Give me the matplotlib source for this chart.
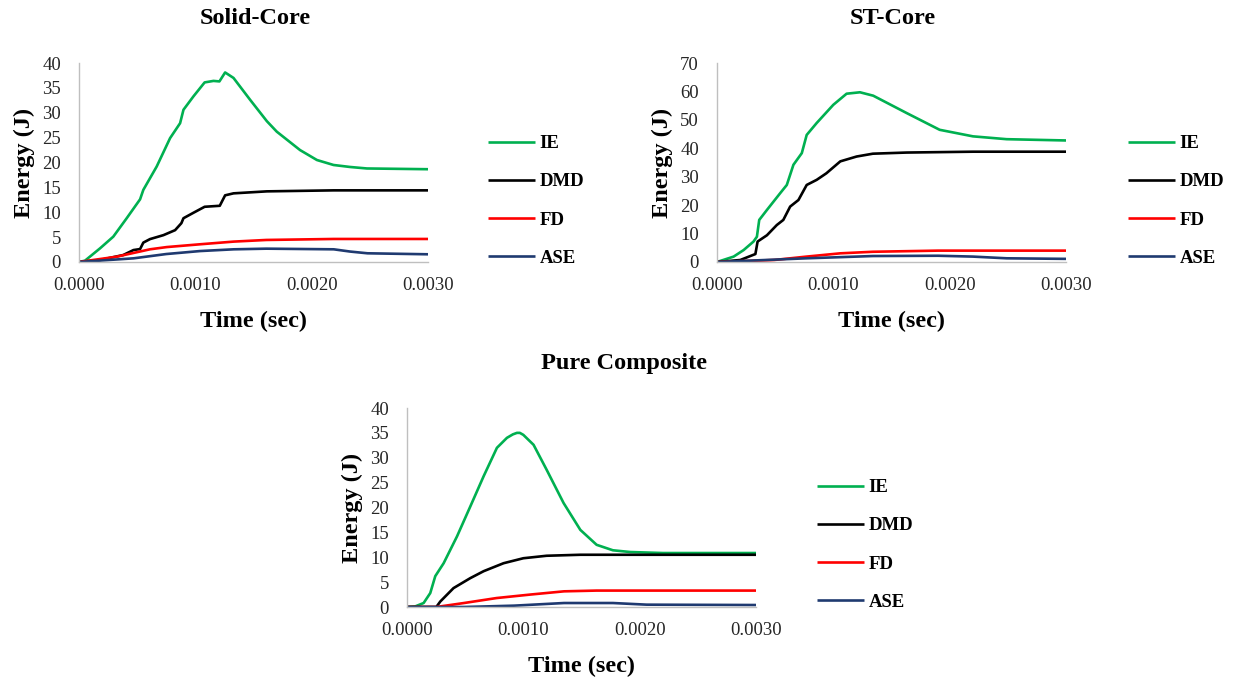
import matplotlib
matplotlib.use("Agg")
import matplotlib.pyplot as plt
from matplotlib.ticker import FormatStrFormatter

plt.rcParams['font.family'] = ['Liberation Serif', 'DejaVu Serif']

series_names = ["IE", "DMD", "FD", "ASE"]
series_colors = ["#00b050", "#000000", "#ff0000", "#1f3a70"]

# ---------------- Solid-Core ----------------
sc_ie_t = [0, 0.0000516, 0.000181, 0.000295, 0.00041, 0.000525, 0.000553, 0.000668, 0.000783,
           0.000869, 0.000898, 0.000984, 0.00108, 0.001156, 0.001207, 0.001256, 0.001328, 0.001471,
           0.001615, 0.0017, 0.0019, 0.002045, 0.002188, 0.00233, 0.002475, 0.003]
sc_ie_e = [0, 0.27, 2.75, 5.1, 8.8, 12.6, 14.5, 19.2, 24.9, 27.9, 30.6, 33.3, 36.1, 36.4, 36.3,
           38.1, 37.0, 32.6, 28.3, 26.2, 22.5, 20.5, 19.5, 19.1, 18.8, 18.65]
sc_dmd_t = [0, 0.00018, 0.00038, 0.000468, 0.000525, 0.000553, 0.00061, 0.000726, 0.000826,
            0.00088, 0.000898, 0.000984, 0.00108, 0.00121, 0.001256, 0.001328, 0.001615, 0.00219, 0.003]
sc_dmd_e = [0, 0.4, 1.4, 2.4, 2.6, 3.9, 4.6, 5.4, 6.4, 7.8, 8.8, 9.9, 11.1, 11.3, 13.4, 13.8,
            14.2, 14.4, 14.4]
sc_fd_t = [0, 0.000324, 0.00061, 0.000754, 0.00104, 0.00133, 0.00161, 0.00219, 0.003]
sc_fd_e = [0, 1.07, 2.55, 3.0, 3.56, 4.1, 4.43, 4.63, 4.63]
sc_ase_t = [0, 0.00047, 0.00075, 0.00104, 0.00133, 0.00161, 0.00219, 0.00233, 0.00248, 0.003]
sc_ase_e = [0, 0.74, 1.6, 2.2, 2.55, 2.68, 2.55, 2.1, 1.75, 1.55]

# ---------------- ST-Core ----------------
st_ie_t = [0, 0.000143, 0.000229, 0.000314, 0.000343, 0.000363, 0.000429, 0.000543, 0.0006,
           0.000657, 0.000729, 0.000771, 0.000857, 0.001, 0.001114, 0.001229, 0.001343, 0.00163,
           0.001914, 0.0022, 0.00249, 0.003]
st_ie_e = [0, 1.9, 4.2, 7.2, 8.9, 14.8, 18.3, 24.2, 27.1, 34.2, 38.3, 44.7, 48.9, 55.3, 59.2,
           59.7, 58.5, 52.4, 46.5, 44.2, 43.2, 42.75]
st_dmd_t = [0, 0.0002, 0.00033, 0.000349, 0.000429, 0.000514, 0.00057, 0.000629, 0.0007, 0.000771,
            0.000857, 0.00094, 0.00106, 0.0012, 0.00134, 0.00163, 0.0022, 0.003]
st_dmd_e = [0, 0.7, 2.8, 7.2, 9.4, 13.0, 14.8, 19.5, 21.8, 27.1, 28.9, 31.2, 35.4, 37.1, 38.1,
            38.5, 38.8, 38.8]
st_fd_t = [0, 0.00049, 0.00077, 0.00106, 0.00134, 0.0019, 0.003]
st_fd_e = [0, 0.7, 1.9, 3.05, 3.6, 4.0, 4.0]
st_ase_t = [0, 0.00077, 0.00134, 0.0019, 0.0022, 0.00249, 0.003]
st_ase_e = [0, 1.3, 2.1, 2.2, 1.9, 1.3, 1.1]

# ---------------- Pure Composite ----------------
pc_ie_t = [0, 0.0000716, 0.000143, 0.0002, 0.000243, 0.000315, 0.00043, 0.000544, 0.000659,
           0.000773, 0.000859, 0.00091, 0.000945, 0.00097, 0.001, 0.001088, 0.0012, 0.001346,
           0.00149, 0.00163, 0.00177, 0.00192, 0.0022, 0.003]
pc_ie_e = [0, 0.13, 0.8, 2.8, 6.2, 8.8, 14.2, 20.2, 26.3, 32.0, 34.0, 34.7, 35.0, 35.0, 34.6,
           32.6, 27.6, 20.9, 15.5, 12.5, 11.4, 11.05, 10.85, 10.85]
pc_dmd_t = [0, 0.000252, 0.000286, 0.0004, 0.000544, 0.000659, 0.00083, 0.001, 0.0012, 0.00149, 0.003]
pc_dmd_e = [0, 0, 1.1, 3.8, 5.8, 7.2, 8.8, 9.8, 10.3, 10.5, 10.5]
pc_fd_t = [0, 0.000252, 0.00049, 0.00077, 0.00106, 0.00135, 0.00163, 0.003]
pc_fd_e = [0, 0, 0.8, 1.8, 2.5, 3.15, 3.3, 3.3]
pc_ase_t = [0, 0.00049, 0.00092, 0.00135, 0.00177, 0.00206, 0.003]
pc_ase_e = [0, 0, 0.27, 0.8, 0.8, 0.47, 0.4]

panels = [
    dict(title="Solid-Core", ymax=40, ystep=5,
         data=[(sc_ie_t, sc_ie_e), (sc_dmd_t, sc_dmd_e), (sc_fd_t, sc_fd_e), (sc_ase_t, sc_ase_e)],
         rect=[79/1239, 1-262/678, 349/1239, 199/678], title_xy=(255/1239, 1-19/678),
         leg=(488/1239, 1-201/678)),
    dict(title="ST-Core", ymax=70, ystep=10,
         data=[(st_ie_t, st_ie_e), (st_dmd_t, st_dmd_e), (st_fd_t, st_fd_e), (st_ase_t, st_ase_e)],
         rect=[717/1239, 1-262/678, 349/1239, 199/678], title_xy=(893/1239, 1-19/678),
         leg=(1128/1239, 1-201/678)),
    dict(title="Pure Composite", ymax=40, ystep=5,
         data=[(pc_ie_t, pc_ie_e), (pc_dmd_t, pc_dmd_e), (pc_fd_t, pc_fd_e), (pc_ase_t, pc_ase_e)],
         rect=[407/1239, 1-607/678, 349/1239, 199/678], title_xy=(624/1239, 1-364/678),
         leg=(817/1239, 1-545/678)),
]

fig = plt.figure(figsize=(12.39, 6.78), dpi=100)
for p in panels:
    ax = fig.add_axes(p["rect"])
    for (t, e), name, c in zip(p["data"], series_names, series_colors):
        ax.plot(t, e, color=c, lw=1.9, label=name, solid_capstyle='butt')
    ax.set_xlim(0, 0.003)
    ax.set_ylim(0, p["ymax"])
    ax.set_xticks([0, 0.001, 0.002, 0.003])
    ax.set_yticks(range(0, p["ymax"] + 1, p["ystep"]))
    ax.xaxis.set_major_formatter(FormatStrFormatter('%.4f'))
    for s in ["top", "right"]:
        ax.spines[s].set_visible(False)
    for s in ["left", "bottom"]:
        ax.spines[s].set_color("#bfbfbf")
        ax.spines[s].set_linewidth(1.0)
    ax.tick_params(length=0, labelsize=13.5, labelcolor="#262626")
    ax.tick_params(axis='y', pad=13)
    ax.tick_params(axis='x', pad=11)
    ax.set_xlabel("Time (sec)", fontsize=17.5, fontweight='bold', labelpad=12)
    ax.set_ylabel("Energy (J)", fontsize=17.5, fontweight='bold', labelpad=5)
    fig.text(p["title_xy"][0], p["title_xy"][1], p["title"], ha='center', va='center',
             fontsize=17.5, fontweight='bold')
    leg = fig.legend(handles=ax.get_lines(), loc='center left', bbox_to_anchor=p["leg"],
                     frameon=False, prop=dict(size=13.5, weight='bold'),
                     handlelength=2.5, handletextpad=0.25, labelspacing=1.12,
                     borderaxespad=0, borderpad=0)

fig.savefig("out.png", dpi=100)
